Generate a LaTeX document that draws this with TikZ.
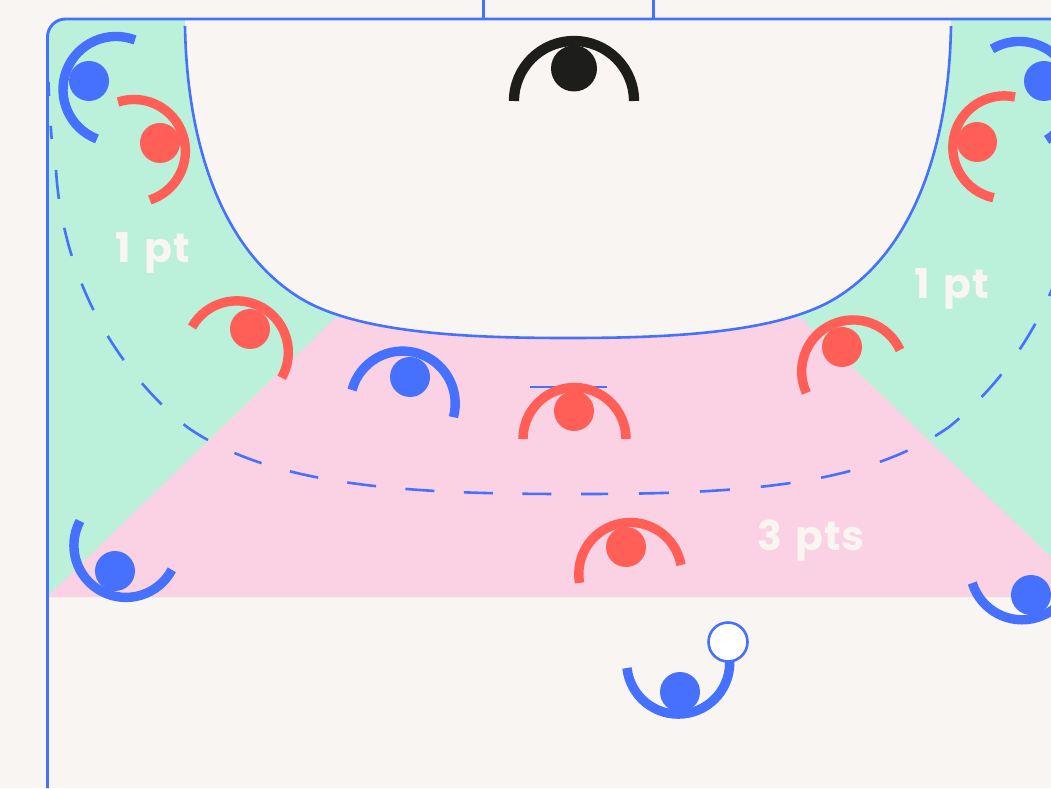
\documentclass[tikz,border=0pt]{standalone}
\usepackage{fontspec}
\setmainfont[LetterSpace=2,WordSpace=1.4]{Poppins}
\definecolor{courtbg}{HTML}{F9F5F2}
\definecolor{zonegreen}{HTML}{BBF0DA}
\definecolor{zonepink}{HTML}{FAD2E4}
\definecolor{teamblue}{HTML}{4671FF}
\definecolor{teamred}{HTML}{FF5F57}
\definecolor{keeperblack}{HTML}{1D1D1B}
\tikzset{
  courtline/.style={teamblue,line width=2.9pt},
  thinline/.style={teamblue,line width=2.6pt},
  bluedot/.style={circle,fill=teamblue,minimum size=40pt,inner sep=0pt},
  reddot/.style={circle,fill=teamred,minimum size=40pt,inner sep=0pt},
  bluearc/.style={teamblue,line width=9.4pt},
  redarc/.style={teamred,line width=9.4pt},
  zonelabel/.style={courtbg,font=\bfseries\fontsize{41}{41}\selectfont,inner sep=0pt},
}
\begin{document}
\begin{tikzpicture}[x=1pt,y=1pt]
\clip (0,0) rectangle (1051,788);
\fill[courtbg] (0,0) rectangle (1051,788);

% scoring zones
\fill[zonegreen] (47,191) -- (47,751) arc[start angle=180,end angle=90,radius=18] -- (1051,769) -- (1051,191) -- cycle;
\fill[zonepink] (47,191) -- (335,470) -- (568,470) -- (801,470) -- (1051,231) -- (1051,191) -- cycle;

% goal area
\fill[courtbg] (185,769) -- (185,762) .. controls (187,643) and (222,538) .. (300,490)
  .. controls (360,453) and (480,450) .. (568,450)
  .. controls (656,450) and (776,453) .. (836,490)
  .. controls (914,538) and (949,643) .. (951,762) -- (951,769) -- cycle;
\draw[thinline] (185,762) .. controls (187,643) and (222,538) .. (300,490)
  .. controls (360,453) and (480,450) .. (568,450)
  .. controls (656,450) and (776,453) .. (836,490)
  .. controls (914,538) and (949,643) .. (951,762);

% court lines
\draw[courtline] (47.5,0) -- (47.5,751) arc[start angle=180,end angle=90,radius=18] -- (1051,769);
\draw[courtline] (483.5,769) -- (483.5,788);
\draw[courtline] (653.5,769) -- (653.5,788);

% three point line
\draw[thinline,dash pattern=on 14pt off 30pt] (48.5,706) .. controls (49,688) and (50,670) .. (51.7,649);
\draw[thinline,dash pattern=on 29pt off 29.5pt] (56,618) .. controls (62,518) and (110,423) .. (187,361)
  .. controls (270,303) and (400,294) .. (568,294);
\draw[thinline,dash pattern=on 30pt off 31pt,dash phase=3pt] (581,294) .. controls (745,294) and (866,303) .. (949,361)
  .. controls (1026,423) and (1074,518) .. (1080,618);

\draw[thinline] (530,401) -- (607,401);

\node[zonelabel] (leftzone) at (153,535) {1 pt};
\node[zonelabel] (rightzone) at (952,499) {1 pt};
\node[zonelabel] (centrezone) at (811,247) {3 pts};

% goalkeeper
\node[circle,fill=keeperblack,minimum size=46pt,inner sep=0pt] (keeper) at (574,719.5) {};
\draw[keeperblack,line width=10.3pt] (514,687) arc[start angle=180,end angle=0,radius=60];

% attackers
\node[bluedot] (leftwing) at (89,707) {};
\draw[bluearc] (135,748) arc[start angle=69,end angle=249,radius=53];
\node[bluedot] (rightwing) at (1044,707) {};
\draw[bluearc] (992,739) arc[start angle=121,end angle=-59,radius=53];
\node[bluedot] (pivot) at (410,411) {};
\draw[bluearc] (352,398) arc[start angle=165,end angle=-15,radius=52.5];
\node[bluedot] (leftback) at (115,217) {};
\draw[bluearc] (80,267) arc[start angle=152,end angle=332,radius=52];
\node[bluedot] (rightback) at (1031,193) {};
\draw[bluearc] (972.3,205) arc[start angle=197,end angle=377,radius=52];
\node[bluedot] (centreback) at (680,96) {};
\draw[bluearc] (627,120) arc[start angle=186,end angle=364,radius=51.5];
\node[circle,draw=teamblue,fill=white,line width=2.6pt,minimum size=39pt,inner sep=0pt] (ball) at (728,146) {};

% defenders
\node[reddot] (leftcorner) at (160,645) {};
\draw[redarc] (118,686) arc[start angle=108,end angle=-72,radius=51.5];
\node[reddot] (rightcorner) at (977,646) {};
\draw[redarc] (1015,691) arc[start angle=78,end angle=258,radius=51.5];
\node[reddot] (lefthalf) at (250,459) {};
\draw[redarc] (192,461) arc[start angle=150.5,end angle=-29.5,radius=51.5];
\node[reddot] (centrehalf) at (574,377) {};
\draw[redarc] (523,349) arc[start angle=180,end angle=0,radius=51.5];
\node[reddot] (righthalf) at (842,441) {};
\draw[redarc] (900,438) arc[start angle=24.6,end angle=204.6,radius=51.5];
\node[reddot] (frontman) at (626,241) {};
\draw[redarc] (681,223) arc[start angle=10,end angle=190,radius=51.5];
\end{tikzpicture}
\end{document}
